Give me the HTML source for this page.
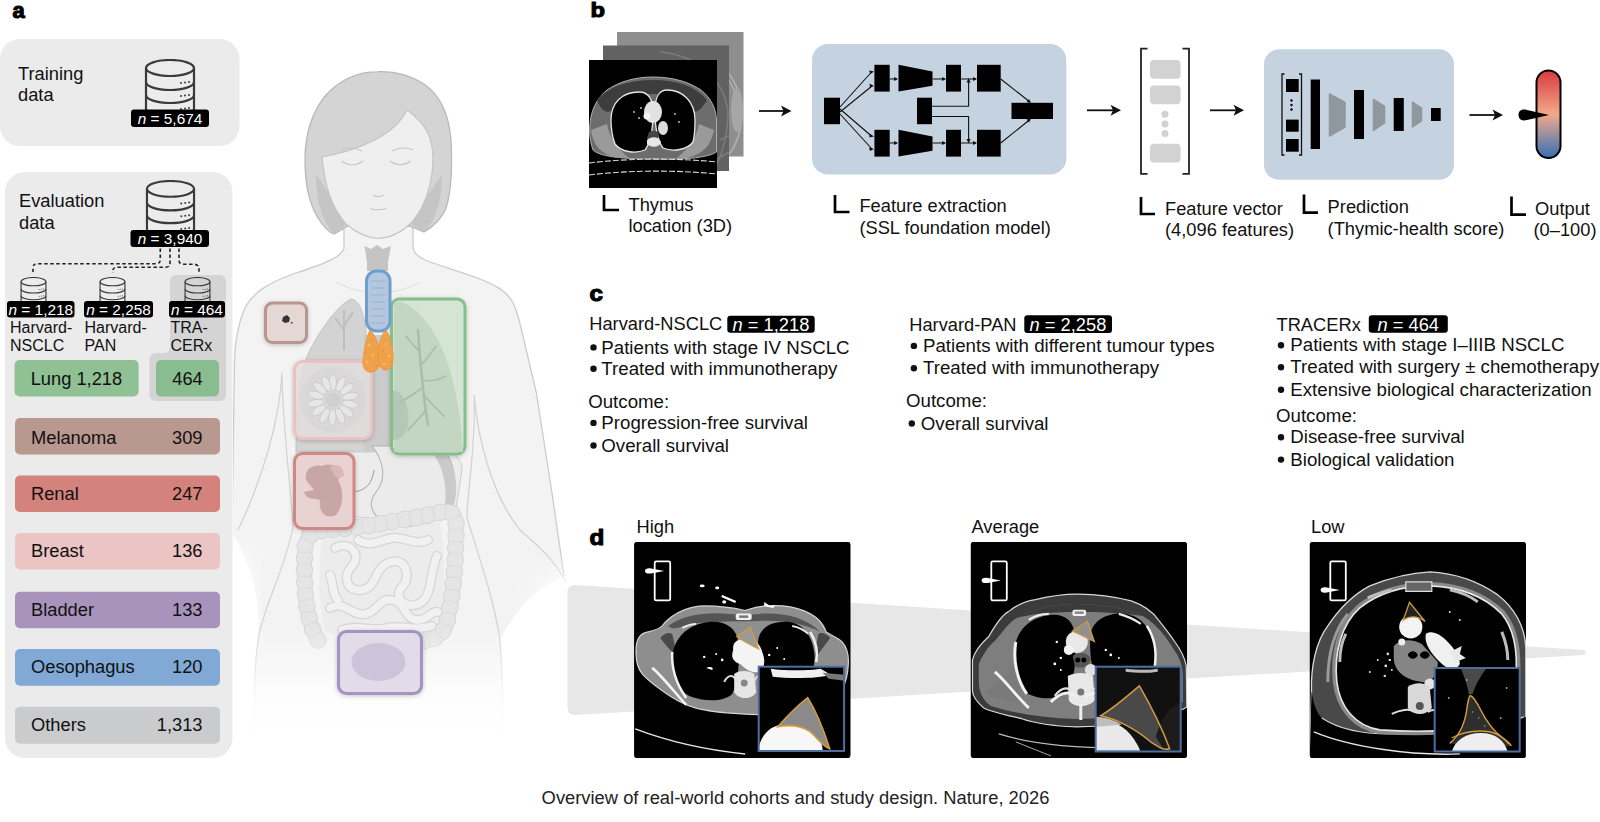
<!DOCTYPE html>
<html><head><meta charset="utf-8">
<style>
svg{color:#ececec}
html,body{margin:0;padding:0;background:#fff;width:1600px;height:822px;overflow:hidden}
svg{display:block;font-family:"Liberation Sans",sans-serif}
.t{font-size:18.3px;fill:#111}
.s{font-size:15.4px;fill:#111}
.w{fill:#fff}
.lb{font-weight:bold;font-size:22px;fill:#000;stroke:#000;stroke-width:1.1px}
</style></head><body>
<svg width="1600" height="822" viewBox="0 0 1600 822">
<defs>
  <symbol id="db" viewBox="0 0 52 56">
    <path d="M2 9 V50 A24 8 0 0 0 50 50 V9" fill="currentColor" stroke="#3a3a3a" stroke-width="2.2"/>
    <ellipse cx="26" cy="9" rx="24" ry="8" fill="currentColor" stroke="#3a3a3a" stroke-width="2.2"/>
    <path d="M2 23 A24 8 0 0 0 50 23 M2 36 A24 8 0 0 0 50 36" fill="none" stroke="#3a3a3a" stroke-width="2.2"/>
    <g fill="#3a3a3a"><circle cx="37" cy="24" r="1"/><circle cx="41" cy="23.5" r="1"/><circle cx="45" cy="23" r="1"/>
    <circle cx="37" cy="37" r="1"/><circle cx="41" cy="36.5" r="1"/><circle cx="45" cy="36" r="1"/>
    <circle cx="37" cy="50" r="1"/><circle cx="41" cy="49.5" r="1"/><circle cx="45" cy="49" r="1"/></g>
  </symbol>
  <linearGradient id="gauge" x1="0" y1="0" x2="0" y2="1">
    <stop offset="0" stop-color="#d83a3c"/>
    <stop offset="0.5" stop-color="#f2a98a"/>
    <stop offset="1" stop-color="#3670b5"/>
  </linearGradient>
</defs>

<!-- ============ PANEL A ============ -->
<text x="12.5" y="18.3" class="lb" font-size="25.5">a</text>
<rect x="0" y="39" width="239.5" height="107" rx="20" fill="#ebebeb"/>
<text class="t" x="18" y="80">Training</text>
<text class="t" x="18" y="101">data</text>
<use href="#db" x="144" y="59" width="52" height="56"/>
<rect x="131" y="109.5" width="78" height="17.5" rx="3" fill="#000"/>
<text class="s w" x="170" y="123.5" text-anchor="middle"><tspan font-style="italic">n</tspan> = 5,674</text>

<rect x="5" y="172" width="227.5" height="586" rx="20" fill="#ebebeb"/>
<text class="t" x="19" y="206.7">Evaluation</text>
<text class="t" x="19" y="228.6">data</text>
<use href="#db" x="145" y="180" width="51" height="55"/>
<rect x="130.5" y="230" width="78.5" height="17" rx="3" fill="#000"/>
<text class="s w" x="170" y="244" text-anchor="middle"><tspan font-style="italic">n</tspan> = 3,940</text>


<!-- tracerx bg -->
<path d="M176 275 H220 A6 6 0 0 1 226 281 V395 A6 6 0 0 1 220 401 H155.5 A6 6 0 0 1 149.5 395 V359 A6 6 0 0 1 155.5 353 H164 A6 6 0 0 0 170 347 V281 A6 6 0 0 1 176 275 Z" fill="#d4d4d4"/>
<!-- dashed connectors -->
<g fill="none" stroke="#222" stroke-width="1.6" stroke-dasharray="3.5 2.5">
  <path d="M160.3 248.5 V259.5 Q160.3 263.7 156 263.7 H37.3 Q33 263.7 33 268 V272"/>
  <path d="M170 248.5 V263 Q170 267.2 165.7 267.2 H117 Q112.8 267.2 112.8 271.5 V273"/>
  <path d="M179 248.5 V260 Q179 264 183 264.3 H194.8 Q199 264.8 199 269 V273"/>
</g>
<use href="#db" x="20" y="277" width="27" height="29"/>
<use href="#db" x="99" y="277" width="27" height="29"/>
<use href="#db" x="184" y="277" width="27" height="29" style="color:#d4d4d4"/>
<rect x="7" y="301" width="67.5" height="16.5" rx="3" fill="#000"/>
<text class="s w" x="40.8" y="314.5" text-anchor="middle" font-size="15"><tspan font-style="italic">n</tspan> = 1,218</text>
<rect x="84" y="301" width="69" height="16.5" rx="3" fill="#000"/>
<text class="s w" x="118.5" y="314.5" text-anchor="middle" font-size="15"><tspan font-style="italic">n</tspan> = 2,258</text>
<rect x="169" y="301" width="56" height="16.5" rx="3" fill="#000"/>
<text class="s w" x="197" y="314.5" text-anchor="middle" font-size="15"><tspan font-style="italic">n</tspan> = 464</text>
<text class="s" x="10" y="332.5" style="font-size:16px">Harvard-</text>
<text class="s" x="10" y="351" style="font-size:16px">NSCLC</text>
<text class="s" x="84.5" y="332.5" style="font-size:16px">Harvard-</text>
<text class="s" x="84.5" y="351" style="font-size:16px">PAN</text>
<text class="s" x="170.5" y="332.5" style="font-size:16px">TRA-</text>
<text class="s" x="170.5" y="351" style="font-size:16px">CERx</text>

<rect x="14.6" y="360" width="124" height="36.5" rx="5" fill="#8fc194"/>
<text class="t" x="30.7" y="384.5">Lung 1,218</text>
<rect x="156" y="360" width="63" height="36.5" rx="5" fill="#89bc8e"/>
<text class="t" x="187.5" y="384.5" text-anchor="middle">464</text>

<g class="t">
<rect x="15" y="418" width="205" height="36.5" rx="5" fill="#b99890"/>
<text x="31" y="443.8">Melanoma</text><text x="202.5" y="443.8" text-anchor="end">309</text>
<rect x="15" y="475.5" width="205" height="36.5" rx="5" fill="#d4827c"/>
<text x="31" y="499.8">Renal</text><text x="202.5" y="499.8" text-anchor="end">247</text>
<rect x="15" y="533" width="205" height="36.5" rx="5" fill="#ebc4c4"/>
<text x="31" y="557.3">Breast</text><text x="202.5" y="557.3" text-anchor="end">136</text>
<rect x="15" y="591.7" width="205" height="36.5" rx="5" fill="#a893bd"/>
<text x="31" y="616">Bladder</text><text x="202.5" y="616" text-anchor="end">133</text>
<rect x="15" y="649" width="205" height="36.8" rx="5" fill="#80a9d6"/>
<text x="31" y="673.3">Oesophagus</text><text x="202.5" y="673.3" text-anchor="end">120</text>
<rect x="15" y="706.7" width="205" height="37" rx="5" fill="#c9cbcd"/>
<text x="31" y="731">Others</text><text x="202.5" y="731" text-anchor="end">1,313</text>
</g>


<!-- ============ BODY ============ -->
<defs>
  <linearGradient id="fadeB" x1="0" y1="0" x2="0" y2="1">
    <stop offset="0" stop-color="#fff" stop-opacity="0"/>
    <stop offset="0.6" stop-color="#fff" stop-opacity="0.85"/>
    <stop offset="1" stop-color="#fff" stop-opacity="1"/>
  </linearGradient>
  <filter id="shd" x="-30%" y="-30%" width="160%" height="160%"><feDropShadow dx="0" dy="1" stdDeviation="2.2" flood-color="#000" flood-opacity="0.22"/></filter>
  <clipPath id="bodyclip"><path d="M233 0 H600 V575 H566 V822 H233 Z"/></clipPath>
</defs>
<g id="body" clip-path="url(#bodyclip)">
  <!-- silhouette -->
  <path d="M344 229 L344 248 C342 256 330 262 296 273 C270 282 252 292 244 310 C238 325 235 340 234.5 360 L232 533 C250 560 262 600 258 640 C254 670 254 700 254 760 L503 760 C503 710 503 680 500 640 C520 600 545 585 564 576 L552 493 L536.4 393 L521 327.6 C518 315 515 306 512 301 C505 290 495 285 480 279 C462 272 440 266 425 260 C416 256 413 252 413 246 L413 224 Z" fill="#f3f3f3"/>
  <path d="M344 229 L344 248 C342 256 330 262 296 273 C270 282 252 292 244 310 C238 325 235 340 234.5 360 L232 533 M413 224 L413 246 C413 252 416 256 425 260 C440 266 462 272 480 279 C495 285 505 290 512 301 C515 306 518 315 521 327.6 L536.4 393 L552 493 L564 576" fill="none" stroke="#cbcbcb" stroke-width="1.3"/>
  <!-- arm/torso lines -->
  <path d="M336 282 C352 290 362 292 372 292 M420 282 C405 290 395 292 385 292" fill="none" stroke="#dedede" stroke-width="1"/>
  <path d="M282 372 C280 420 262 480 238 530" fill="none" stroke="#d0d0d0" stroke-width="1.2"/>
  <path d="M282 376 C283 430 292 500 293 527 C285 570 262 610 258 640 C254 670 254 700 254 740" fill="none" stroke="#d2d2d2" stroke-width="1.2"/>
  <path d="M474 395 C478 440 492 495 520 530 C540 548 556 560 570 590" fill="none" stroke="#d0d0d0" stroke-width="1.2"/>
  <path d="M474 400 C476 450 466 500 467 518 C480 560 494 600 500 640 C503 680 503 710 503 740" fill="none" stroke="#d2d2d2" stroke-width="1.2"/>
  
  <!-- hair back -->
  <path d="M377.7 71.7 C355 72 338 82 326 95 C312 112 305 135 305 160 C305 185 310 205 318 218 C323 226 328 232 334 234 L348 226 L410 226 L424 232 C432 228 442 218 446 208 C452 190 452 160 451 140 C449 115 440 95 424 84 C410 75 395 71 377.7 71.7 Z" fill="#d4d4d4" stroke="#b9b9b9" stroke-width="1.3"/>
  <path d="M316 175 C316 205 324 222 334 234 L350 222 Z M442 175 C442 205 434 222 424 232 L408 222 Z" fill="#c5c5c5"/>
  <!-- face -->
  <path d="M322 157 C325 185 330 205 346 224 C358 234 368 238 378 238.3 C390 238 402 232 412 222 C426 205 432 185 433 160 C433 140 428 125 407 110 C395 135 360 150 322 157 Z" fill="#efefef" stroke="#c3c3c3" stroke-width="1.1"/>
  <g fill="none" stroke="#c6c6c6" stroke-width="1.1">
    <path d="M342 161 C348 166 356 166 363 161"/>
    <path d="M390 161 C397 166 404 166 411 161"/>
    <path d="M341 150 C348 147 356 148 362 151 M392 151 C398 148 406 147 413 150"/>
    <path d="M373 195 C376 197 380 197 384 195"/>
    <path d="M370 208.5 C375 210 381 210 386 208.5"/>
  </g>
  <!-- larynx -->
  <path d="M364.5 246 L371 249 L377 245 L383 249 L390.8 246 L388 262 L388 271 L367 271 L367 262 Z" fill="#c4c4c4"/>
  <!-- left lung gray -->
  <path d="M351 299 C338 305 320 330 310 350 C300 370 296 400 296 452 L366 452 L366 330 C364 315 360 300 351 299 Z" fill="#d3d3d3" stroke="#c2c2c2" stroke-width="1"/>
  <g fill="none" stroke="#bdbdbd" stroke-width="1.8"><path d="M344 310 V350 M344 330 L335 318 M344 326 L353 312"/></g>
  <!-- heart -->
  <path d="M364 335 L394 335 L394 452 L366 452 C356 425 356 392 364 370 Z" fill="#cbcbcb"/>
  <!-- stomach/liver -->
  <path d="M296 452 C300 480 318 505 350 515 C390 525 430 520 456 508 L462 470 C462 455 450 452 440 452 Z" fill="#ececec" stroke="#cdcdcd" stroke-width="1"/>
  <path d="M372 446 C385 462 386 480 376 492 C366 505 372 522 400 526 C430 530 452 515 454 490 C456 470 450 455 440 446 Z" fill="#ebebeb" stroke="#b5b5b5" stroke-width="1.1"/>
  <path d="M354 492 C366 490 372 484 374 470" fill="none" stroke="#9d9d9d" stroke-width="1"/>
  <path d="M432 452 C446 470 450 500 440 520 L450 516 C460 495 458 468 444 452 Z" fill="#cacaca"/>
  <!-- intestines -->
  <path d="M322 540 C360 535 420 525 440 522 C446 560 446 600 438 632 C400 642 350 642 325 632 C318 600 318 570 322 540 Z" fill="#ececec"/>
  <g fill="none" stroke-linecap="round" stroke-linejoin="round"><path d="M335 548 C350 540 362 555 352 566 C342 577 347 592 362 590 C377 588 374 567 390 562 C406 557 412 577 402 587 C392 597 407 612 422 602 C432 594 430 572 437 556 M330 608 C345 600 352 617 366 614 C380 610 378 598 392 600 C406 602 404 620 418 620 C428 620 432 610 438 612 M342 630 C358 624 372 632 386 628 C400 624 412 632 432 626 M358 540 C370 548 380 540 392 538 C404 536 414 546 428 540 M330 575 C334 585 332 595 338 600" stroke="#d5d5d5" stroke-width="10"/><path d="M335 548 C350 540 362 555 352 566 C342 577 347 592 362 590 C377 588 374 567 390 562 C406 557 412 577 402 587 C392 597 407 612 422 602 C432 594 430 572 437 556 M330 608 C345 600 352 617 366 614 C380 610 378 598 392 600 C406 602 404 620 418 620 C428 620 432 610 438 612 M342 630 C358 624 372 632 386 628 C400 624 412 632 432 626 M358 540 C370 548 380 540 392 538 C404 536 414 546 428 540 M330 575 C334 585 332 595 338 600" stroke="#f1f1f1" stroke-width="7.5"/></g>
  <g fill="none" stroke-linejoin="round">
    <path d="M318 640 C306 622 303 585 305 548 C306 536 312 531 326 530 C360 528 400 521 442 512 C452 510 457 516 456 526 C456 562 453 600 446 625 C442 636 432 641 420 642" stroke="#d6d6d6" stroke-width="15" stroke-linecap="round"/>
    <path d="M318 640 C306 622 303 585 305 548 C306 536 312 531 326 530 C360 528 400 521 442 512 C452 510 457 516 456 526 C456 562 453 600 446 625 C442 636 432 641 420 642" stroke="#d6d6d6" stroke-width="17.5" stroke-dasharray="0.01 12" stroke-linecap="round"/>
    <path d="M318 640 C306 622 303 585 305 548 C306 536 312 531 326 530 C360 528 400 521 442 512 C452 510 457 516 456 526 C456 562 453 600 446 625 C442 636 432 641 420 642" stroke="#e5e5e5" stroke-width="13" stroke-linecap="round"/>
    <path d="M318 640 C306 622 303 585 305 548 C306 536 312 531 326 530 C360 528 400 521 442 512 C452 510 457 516 456 526 C456 562 453 600 446 625 C442 636 432 641 420 642" stroke="#e5e5e5" stroke-width="15.5" stroke-dasharray="0.01 12" stroke-linecap="round"/>
    <path d="M318 640 C306 622 303 585 305 548 C306 536 312 531 326 530 C360 528 400 521 442 512 C452 510 457 516 456 526 C456 562 453 600 446 625 C442 636 432 641 420 642" stroke="#d8d8d8" stroke-width="13" stroke-dasharray="0.8 11.2" stroke-dashoffset="-5.6"/>
  </g>
  <rect x="220" y="630" width="360" height="110" fill="url(#fadeB)"/><rect x="220" y="740" width="360" height="30" fill="#fff"/>
  <defs><linearGradient id="fadeR" x1="0" y1="0" x2="1" y2="0"><stop offset="0" stop-color="#fff" stop-opacity="0"/><stop offset="1" stop-color="#fff" stop-opacity="1"/></linearGradient>
  <linearGradient id="fadeL" x1="1" y1="0" x2="0" y2="0"><stop offset="0" stop-color="#fff" stop-opacity="0"/><stop offset="1" stop-color="#fff" stop-opacity="1"/></linearGradient></defs>
  <defs><filter id="bigblur" x="-50%" y="-50%" width="200%" height="200%"><feGaussianBlur stdDeviation="14"/></filter></defs>
  <path d="M540 585 L600 560 L600 780 L515 780 Z" fill="#fff" filter="url(#bigblur)"/>
  <path d="M225 545 L250 565 L245 640 L225 640 Z" fill="#fff" filter="url(#bigblur)"/>
</g>
<g id="organs">
  <rect x="265.5" y="303" width="41" height="39.5" rx="7" fill="#e5d7d4" stroke="#b8958f" stroke-width="3" filter="url(#shd)"/>
  <path d="M283 317 l4 -2 l3 3 l-1 4 l-4 1 l-3 -2 Z M291 322 l1.5 0 l0 1.5 l-1.5 0Z" fill="#333"/>
  <rect x="294.5" y="361.5" width="77" height="77" rx="8" fill="#e6e0e0" fill-opacity="0.85" stroke="#e9c3c3" stroke-width="3" filter="url(#shd)"/>
  <circle cx="333" cy="400" r="33" fill="#d6d6d6" opacity="0.75"/>
  <g transform="translate(333 400)" fill="#e6e6e6" stroke="#c8c8c8" stroke-width="0.8">
    <ellipse cx="0" cy="-17.5" rx="3.6" ry="8.2" transform="rotate(0)"/><ellipse cx="0" cy="-17.5" rx="3.6" ry="8.2" transform="rotate(26)"/><ellipse cx="0" cy="-17.5" rx="3.6" ry="8.2" transform="rotate(52)"/><ellipse cx="0" cy="-17.5" rx="3.6" ry="8.2" transform="rotate(78)"/><ellipse cx="0" cy="-17.5" rx="3.6" ry="8.2" transform="rotate(104)"/><ellipse cx="0" cy="-17.5" rx="3.6" ry="8.2" transform="rotate(130)"/><ellipse cx="0" cy="-17.5" rx="3.6" ry="8.2" transform="rotate(156)"/><ellipse cx="0" cy="-17.5" rx="3.6" ry="8.2" transform="rotate(182)"/><ellipse cx="0" cy="-17.5" rx="3.6" ry="8.2" transform="rotate(208)"/><ellipse cx="0" cy="-17.5" rx="3.6" ry="8.2" transform="rotate(234)"/><ellipse cx="0" cy="-17.5" rx="3.6" ry="8.2" transform="rotate(260)"/><ellipse cx="0" cy="-17.5" rx="3.6" ry="8.2" transform="rotate(286)"/><ellipse cx="0" cy="-17.5" rx="3.6" ry="8.2" transform="rotate(312)"/><ellipse cx="0" cy="-17.5" rx="3.6" ry="8.2" transform="rotate(338)"/>
    <circle r="6.5" fill="#d0d0d0"/>
  </g>
  <rect x="294.5" y="453.5" width="59.5" height="75" rx="8" fill="#ead3d1" fill-opacity="0.92" stroke="#d08884" stroke-width="3" filter="url(#shd)"/>
  <path d="M306 480 C304 470 312 464 322 466 C330 462 340 466 342 474 L338 480 C344 490 344 505 336 515 C326 520 318 512 320 500 C314 498 306 500 304 492 L314 490 Z" fill="#c29f9f" opacity="0.85"/>
  <path d="M330 468 C336 462 344 466 344 476 L336 478 Z" fill="#d9b9b6"/>
  <rect x="391.5" y="299" width="73.5" height="155" rx="8" fill="#d5e6d3" fill-opacity="0.9" stroke="#84bf89" stroke-width="3" filter="url(#shd)"/>
  <path d="M394 302 C405 300 420 310 435 335 C450 360 460 400 463 452 L394 452 Z" fill="#c3d6c1"/>
  <path d="M393 390 C405 392 410 410 408 425 C406 435 400 440 393 440 Z" fill="#b5c8b3"/>
  <g fill="none" stroke="#aabfa8" stroke-linecap="round">
    <path d="M418 330 C420 360 422 390 428 425" stroke-width="2.6"/>
    <path d="M420 352 C414 346 410 342 406 336 M421 365 C428 358 432 352 436 346 M423 380 C430 382 438 380 446 376 M424 395 C432 405 438 410 444 416 M422 388 C414 394 408 398 400 402 M426 410 C420 418 414 424 408 430" stroke-width="1.8"/>
  </g>
  <rect x="366.5" y="271" width="23.5" height="60" rx="10" fill="#b3c8de" stroke="#6e9fd0" stroke-width="3"/>
  <g stroke="#98b2cd" stroke-width="1"><path d="M371 281 H385 M371 288 H385 M371 295 H385 M371 302 H385 M371 309 H385 M371 316 H385 M371 323 H385"/></g>
  <path d="M370 330 C366 338 364 350 363 360 C362 368 366 373 372 372 C378 371 380 366 380 358 C380 346 376 336 370 330 Z" fill="#f0a24a" stroke="#e3953c" stroke-width="0.8"/>
  <path d="M386 330 C380 336 378 346 378 358 C378 366 382 371 387 370 C392 369 394 362 393 354 C392 344 390 336 386 330 Z" fill="#f0a24a" stroke="#e3953c" stroke-width="0.8"/>
  <g fill="#f7c07a" opacity="0.8"><circle cx="369" cy="345" r="1.3"/><circle cx="373" cy="355" r="1.3"/><circle cx="367" cy="362" r="1.3"/><circle cx="386" cy="344" r="1.2"/><circle cx="389" cy="356" r="1.3"/><circle cx="384" cy="364" r="1.2"/></g>
  <g fill="#d9862e" opacity="0.7"><circle cx="372" cy="340" r="1"/><circle cx="366" cy="352" r="1"/><circle cx="376" cy="366" r="1"/><circle cx="383" cy="351" r="1"/><circle cx="391" cy="362" r="1"/></g>
  <rect x="338.5" y="631.5" width="83" height="62" rx="8" fill="#e2dcea" stroke="#a594c0" stroke-width="3.2" filter="url(#shd)"/>
  <ellipse cx="378.5" cy="662" rx="27" ry="19" fill="#cec4da"/>
</g>
<!-- ============ PANEL B ============ -->
<text x="590.5" y="16.8" class="lb" font-size="23" transform="translate(590.5 16.8) scale(1.08 0.95) translate(-590.5 -16.8)">b</text>
<g id="ctstack">
  <rect x="617" y="32" width="126.5" height="124.5" fill="#8e8e8e"/>
  <g fill="none" stroke="#b0b0b0" stroke-width="1.6">
    <path d="M700 52 C728 62 742 90 742 112 C742 130 736 146 728 156"/>
    <path d="M712 66 C732 76 738 96 738 112"/>
  </g>
  <ellipse cx="737" cy="110" rx="6" ry="22" fill="#a6a6a6"/>
  <rect x="603" y="45.5" width="126" height="125.5" fill="#626262"/>
  <g fill="none" stroke="#7c7c7c" stroke-width="1.5">
    <path d="M660 52 C700 56 724 80 728 112 C728 130 724 150 716 166"/>
    <path d="M720 140 L729 136 M716 160 L729 152"/>
  </g>
  <rect x="589" y="60" width="128" height="128" fill="#000"/>
  <g transform="translate(589 60)" filter="url(#sb)">
    <path d="M1 64 C2 50 8 38 18 30 C30 22 45 17 64 17 C84 17 100 22 112 30 C122 38 127 48 127.5 60 L127.5 92 C120 97 100 100 64 99 C30 99 10 96 4 90 C1 82 0 72 1 64 Z" fill="#6c6c6c" stroke="#bbb" stroke-width="0.9"/>
    <path d="M8 40 C20 26 40 20 64 20 C88 20 106 26 118 40 C112 50 106 56 100 48 C90 36 70 34 64 34 C50 34 34 38 26 48 C18 56 12 50 8 40 Z" fill="#3c3c3c"/>
    <path d="M2 70 C4 86 12 94 28 98 L40 98 C28 88 20 76 18 64 Z M125 70 C122 86 114 94 98 98 L88 98 C100 88 108 76 110 64 Z" fill="#9a9a9a"/>
    <path d="M22 60 C22 42 34 32 50 32 C60 32 64 40 64 52 C64 68 62 82 56 90 C46 94 32 92 26 84 C23 76 22 68 22 60 Z" fill="#000" stroke="#e6e6e6" stroke-width="1.3"/>
    <path d="M106 60 C106 42 94 30 78 30 C70 30 66 38 66 50 C66 66 68 80 74 88 C84 92 98 90 104 82 C106 74 106 68 106 60 Z" fill="#000" stroke="#e6e6e6" stroke-width="1.3"/>
    <ellipse cx="64" cy="52" rx="9" ry="11" fill="#e2e2e2"/>
    <circle cx="58" cy="56" r="3.5" fill="#f4f4f4"/>
    <ellipse cx="74" cy="68" rx="5" ry="7" fill="#dcdcdc"/>
    <path d="M60 72 C64 70 68 70 70 74 L68 82 C64 84 60 82 58 78 Z" fill="#444"/>
    <path d="M58 80 C62 76 70 76 72 82 C70 88 62 88 58 84 Z" fill="#e8e8e8"/>
    <g fill="#ccc"><circle cx="45" cy="52" r="0.9"/><circle cx="50" cy="58" r="0.9"/><circle cx="86" cy="54" r="0.9"/><circle cx="90" cy="62" r="0.9"/><circle cx="52" cy="48" r="0.9"/></g>
    <path d="M0 103 C40 98 90 98 128 102 M0 115 C40 110 90 110 128 114" fill="none" stroke="#d8d8d8" stroke-width="1.1" stroke-dasharray="6 2"/>
  </g>
</g>
<g fill="none" stroke="#111" stroke-width="1.8">
  <path d="M759 111 H784"/>
</g>
<g fill="#111"><path d="M791.5 111 L781 105.5 L783.5 111 L781 116.5 Z"/><path d="M1121 110.3 L1110.5 104.8 L1113 110.3 L1110.5 115.8 Z"/><path d="M1244 110.3 L1233.5 104.8 L1236 110.3 L1233.5 115.8 Z"/><path d="M1503 115 L1492.5 109.5 L1495 115 L1492.5 120.5 Z"/></g>
<path d="M604 195 V210 H619" fill="none" stroke="#000" stroke-width="2.7"/>
<text class="t" x="628.5" y="211">Thymus</text>
<text class="t" x="628.5" y="232">location (3D)</text>

<rect x="812" y="44" width="254.3" height="130.5" rx="16" fill="#c5d3e1"/>
<g fill="#000">
  <rect x="824" y="97.7" width="16" height="26.5"/>
  <rect x="874.4" y="64.8" width="15.3" height="26.8"/>
  <path d="M898.5 64.8 L932.5 71.5 L932.5 85.7 L898.5 91.6 Z"/>
  <rect x="946" y="64.8" width="15" height="26.8"/>
  <rect x="977" y="64.8" width="23.7" height="26.8"/>
  <rect x="874.4" y="129.8" width="15.3" height="26.8"/>
  <path d="M898.5 129.8 L932.5 136.5 L932.5 150.7 L898.5 156.6 Z"/>
  <rect x="946" y="129.8" width="15" height="26.8"/>
  <rect x="977" y="129.8" width="23.7" height="26.8"/>
  <rect x="917" y="97.7" width="15" height="26.5"/>
  <rect x="1011.5" y="102.8" width="41.5" height="16.2"/>
</g>
<g fill="none" stroke="#111" stroke-width="1.1">
  <path d="M840 107 L872 71.5 M840 112 L872 86 M840 109 L872 136.5 M840 114 L872 149"/>
  <path d="M889.7 79 H897 M932.5 79 H945 M961 79 H976 M889.7 143 H897 M932.5 143 H945 M961 143 H976"/>
  <path d="M932 106.3 H968.6 V81 M932 116.5 H968.6 V141"/>
  <path d="M1000.7 79 L1030 102 M1000.7 143 L1030 119.5"/>
</g>
<g fill="#111">
  <path d="M874 71.5 l-5 -1 l1.5 3.5 Z M874 86 l-4.5 -2.5 l0.5 4 Z M874 136.5 l-4.5 -3 l0 4 Z M874 149 l-5 -1.5 l1 3.5Z"/>
  <path d="M898 79 l-4 -2 v4 Z M946 79 l-4 -2 v4 Z M977 79 l-4 -2 v4 Z M898 143 l-4 -2 v4 Z M946 143 l-4 -2 v4 Z M977 143 l-4 -2 v4 Z"/>
  <path d="M968.6 78 l-2 4.5 h4 Z M968.6 143.5 l-2 -4.5 h4 Z"/>
  <path d="M1031 103 l-4.5 -1 l2.5 -3 Z M1031 118.5 l-4.5 1 l2.5 3 Z"/>
</g>
<path d="M835 195 V212 H849.5" fill="none" stroke="#000" stroke-width="2.7"/>
<text class="t" x="859.4" y="212">Feature extraction</text>
<text class="t" x="859.4" y="233.5">(SSL foundation model)</text>

<g fill="none" stroke="#111" stroke-width="1.8">
  <path d="M1087 110.3 H1115"/>
  <path d="M1210 110.3 H1238"/>
  <path d="M1469.5 115 H1497"/>
</g>
<g fill="none" stroke="#222" stroke-width="1.8">
  <path d="M1147.5 48.7 H1141 V173.8 H1147.5"/>
  <path d="M1182.5 48.7 H1189 V173.8 H1182.5"/>
</g>
<g fill="#d2d2d2">
  <rect x="1150" y="60" width="30.6" height="18.7" rx="4"/>
  <rect x="1150" y="85.4" width="30.6" height="18.8" rx="4"/>
  <rect x="1150" y="143.8" width="30.6" height="18.7" rx="4"/>
  <circle cx="1165" cy="114.3" r="3.5"/><circle cx="1165" cy="124" r="3.5"/><circle cx="1165" cy="133.6" r="3.5"/>
</g>
<path d="M1141 197 V214 H1155" fill="none" stroke="#000" stroke-width="2.7"/>
<text class="t" x="1165" y="214.5">Feature vector</text>
<text class="t" x="1165" y="236">(4,096 features)</text>

<rect x="1264" y="49.3" width="190" height="130.5" rx="15" fill="#c5d3e1"/>
<g fill="none" stroke="#111" stroke-width="1.3">
  <path d="M1284.5 74 H1282 V155 H1284.5 M1299 74 H1301.5 V155 H1299"/>
</g>
<g fill="#000">
  <rect x="1286" y="79" width="12.7" height="13"/>
  <rect x="1286" y="119.6" width="12.7" height="12.1"/>
  <rect x="1286" y="139" width="12.7" height="12.7"/>
  <circle cx="1291.5" cy="100.5" r="1.2"/><circle cx="1291.5" cy="105" r="1.2"/><circle cx="1291.5" cy="109.5" r="1.2"/>
  <rect x="1310.7" y="79.5" width="9.3" height="69.5"/>
  <rect x="1354" y="90" width="10" height="49"/>
  <rect x="1393.7" y="98" width="10.1" height="33"/>
  <rect x="1431" y="108" width="9.7" height="13"/>
</g>
<g fill="#8f979f" stroke="#8f979f" stroke-width="1.5" stroke-linejoin="round">
  <path d="M1329.5 94 L1345 102.5 L1345 127 L1329.5 136 Z"/>
  <path d="M1373.5 99.5 L1384.5 106.5 L1384.5 123 L1373.5 130.5 Z"/>
  <path d="M1412.5 102 L1421.5 108 L1421.5 121 L1412.5 127 Z"/>
</g>
<path d="M1304 194.5 V212.7 H1318" fill="none" stroke="#000" stroke-width="2.7"/>
<text class="t" x="1327.6" y="212.7">Prediction</text>
<text class="t" x="1327.6" y="234.6">(Thymic-health score)</text>

<rect x="1536.5" y="70.5" width="24" height="87.5" rx="12" fill="url(#gauge)" stroke="#000" stroke-width="2"/>
<path d="M1549 115 L1527 110 C1521 108.5 1518.5 111.5 1518.5 115 C1518.5 118.5 1521 121.5 1527 120 Z" fill="#000"/>
<path d="M1511.5 196.4 V214.6 H1526" fill="none" stroke="#000" stroke-width="2.7"/>
<text class="t" x="1535" y="214.6">Output</text>
<text class="t" x="1533.5" y="236">(0–100)</text>

<!-- ============ PANEL C ============ -->
<text x="589.5" y="301" class="lb" font-size="24" transform="translate(589.5 301) scale(1.1 1) translate(-589.5 -301)">c</text>
<g class="t" style="font-size:18.7px">
<text x="589.2" y="330.4" style="font-size:18.3px">Harvard-NSCLC</text>
<text x="601.3" y="353.5">Patients with stage IV NSCLC</text>
<text x="601.3" y="374.8">Treated with immunotherapy</text>
<text x="588.2" y="407.9">Outcome:</text>
<text x="601.3" y="429">Progression-free survival</text>
<text x="601.3" y="451.6">Overall survival</text>

<text x="909.2" y="330.8" style="font-size:18.3px">Harvard-PAN</text>
<text x="923" y="352">Patients with different tumour types</text>
<text x="923" y="374.4">Treated with immunotherapy</text>
<text x="906" y="407.3">Outcome:</text>
<text x="920.8" y="429.6">Overall survival</text>

<text x="1276.5" y="330.6" style="font-size:18.3px">TRACERx</text>
<text x="1290.3" y="351.4">Patients with stage I–IIIB NSCLC</text>
<text x="1290.3" y="373.3">Treated with surgery ± chemotherapy</text>
<text x="1290.3" y="395.9">Extensive biological characterization</text>
<text x="1276" y="421.5">Outcome:</text>
<text x="1290.3" y="443.4">Disease-free survival</text>
<text x="1290.3" y="465.7">Biological validation</text>
</g>
<g fill="#111">
<circle cx="593.5" cy="347.4" r="3.2"/><circle cx="593.5" cy="368.7" r="3.2"/><circle cx="593.5" cy="422.9" r="3.2"/><circle cx="593.5" cy="445.5" r="3.2"/>
<circle cx="913.9" cy="345.9" r="3.2"/><circle cx="913.9" cy="368.3" r="3.2"/><circle cx="911.8" cy="423.5" r="3.2"/>
<circle cx="1281" cy="345.3" r="3.2"/><circle cx="1281" cy="367.2" r="3.2"/><circle cx="1281" cy="389.8" r="3.2"/><circle cx="1281" cy="437.3" r="3.2"/><circle cx="1281" cy="459.6" r="3.2"/>
</g>
<rect x="727.3" y="315.8" width="87.4" height="17" rx="3" fill="#000"/>
<text class="t w" x="771" y="330.5" text-anchor="middle"><tspan font-style="italic">n</tspan> = 1,218</text>
<rect x="1024.3" y="315.3" width="87.7" height="17.7" rx="3" fill="#000"/>
<text class="t w" x="1068" y="330.5" text-anchor="middle"><tspan font-style="italic">n</tspan> = 2,258</text>
<rect x="1368.8" y="315.3" width="79" height="17.5" rx="3" fill="#000"/>
<text class="t w" x="1408.3" y="330.5" text-anchor="middle"><tspan font-style="italic">n</tspan> = 464</text>

<!-- ============ PANEL D ============ -->
<text x="589.5" y="545.3" class="lb" font-size="23" transform="translate(589.5 545.3) scale(1.1 1) translate(-589.5 -545.3)">d</text>
<path d="M575 585 L1584 650 Q1588 652.5 1584 655 L575 715 Q567.5 715 567.5 707 L567.5 593 Q567.5 585 575 585 Z" fill="#e7e7e7"/>
<text class="t" x="636.6" y="533">High</text>
<text class="t" x="971.5" y="533">Average</text>
<text class="t" x="1311" y="533">Low</text>
<rect x="634.2" y="541.9" width="216.2" height="216.1" rx="3" fill="#000"/>
<rect x="970.8" y="541.9" width="216.2" height="216.1" rx="3" fill="#000"/>
<rect x="1309.8" y="541.9" width="216" height="216.1" rx="3" fill="#000"/>


<defs>
  <clipPath id="ctclip"><rect x="0" y="0" width="216.2" height="216.1" rx="3"/></clipPath>
  <clipPath id="insclip"><rect x="0" y="0" width="85" height="84" /></clipPath>
  <filter id="sb" x="-10%" y="-10%" width="120%" height="120%"><feGaussianBlur stdDeviation="0.6"/></filter>
</defs>
<!-- CT HIGH -->
<g transform="translate(634.2 541.9)" clip-path="url(#ctclip)">
  <rect width="216.2" height="216.1" fill="#000"/>
  <g filter="url(#sb)">
  <path d="M1.8 108 C2 98 6 92 12 90.5 C18 89 24 88 28 84 C34 76 40 72 50 68 C58 65 62 64 70 64 C85 64 100 66 110.8 68.6 C118 66 124 64.5 132 64 C145 63 158 64 170 69 C182 74 188 80 192 90 C198 94 204 96 208 100 C213 106 215 114 214 124 C213 140 208 152 196 160 C180 168 150 172 124.5 172.7 C100 172 80 170 70 168 C55 166 45 160 36.9 154.9 C25 147 15 140 8 132 C3 126 1.5 118 1.8 108 Z" fill="#8e8e8e" stroke="#d4d4d4" stroke-width="1.2"/>
  <path d="M34 84 C50 72 75 70 95 72 C105 73 115 73 125 72 C150 70 172 76 186 90 C172 82 150 78 125 79 C100 80 70 78 50 84 C44 86 38 88 34 84 Z" fill="#555"/>
  <path d="M26 96 C30 92 34 90 38 92 L44 118 C40 112 32 104 26 96 Z M196 96 C192 92 188 90 184 92 L180 118 C184 112 190 104 196 96 Z" fill="#4a4a4a"/>
  <path d="M38 118 C38 98 52 82 75 80 C92 79 102 86 104 100 C106 118 104 140 98 152 C90 160 70 160 55 154 C44 148 38 135 38 118 Z" fill="#000"/>
  <path d="M124 98 C126 84 140 79 155 80 C170 82 178 95 180 110 C182 125 176 140 165 148 C150 152 135 148 128 140 C124 128 122 110 124 98 Z" fill="#000"/>
  <path d="M38 110 C37 128 42 142 52 156" fill="none" stroke="#f2f2f2" stroke-width="2.5"/>
  <path d="M176 90 C182 100 184 110 182 120" fill="none" stroke="#f0f0f0" stroke-width="2.5"/>
  <path d="M48 86 C54 83 58 82 62 82" fill="none" stroke="#e8e8e8" stroke-width="2"/>
  <path d="M158 84 C164 85 170 88 174 92" fill="none" stroke="#e8e8e8" stroke-width="2"/>
  <path d="M18 126 C26 132 40 150 52 163" fill="none" stroke="#f4f4f4" stroke-width="2.6"/>
  <rect x="101.5" y="71.5" width="16" height="6.5" rx="2" fill="#f0f0f0"/>
  <rect x="105" y="73.5" width="9" height="2.5" fill="#777"/>
  <path d="M99 108 C98 100 104 96 112 98 C120 96 126 102 128 110 C132 120 130 128 124 130 C118 132 110 126 106 122 C100 120 96 116 99 108 Z" fill="#f4f4f4"/>
  <path d="M102.6 94.6 L116.2 85.1 L124.5 107 C118 104 110 100 102.6 94.6 Z" fill="#9a9a9a" stroke="#d29b3d" stroke-width="1.3"/>
  <path d="M100 132 C104 128 116 128 120 132 L122 150 C118 158 104 158 100 150 Z" fill="#e6e6e6"/>
  <circle cx="110" cy="141" r="3.5" fill="#888"/>
  <path d="M90 140 C94 132 100 132 102 140 M120 140 C122 132 128 132 132 140" fill="none" stroke="#ddd" stroke-width="2"/>
  <path d="M1 187 C30 198 70 208 111 212" fill="none" stroke="#e6e6e6" stroke-width="1.5"/>
  <g fill="#fff"><ellipse cx="68" cy="44" rx="2.5" ry="1.4"/><ellipse cx="83" cy="46" rx="2" ry="1.4"/><path d="M88 53 L102 59 L101 61 L87 55 Z"/><ellipse cx="90" cy="60" rx="2" ry="1.6"/><path d="M130 60 L136 64 L141 63 L139 66 L130 64 Z"/>
  <circle cx="70" cy="115" r="1.2"/><circle cx="82" cy="112" r="1"/><circle cx="88" cy="118" r="1.3"/><path d="M72 126 C76 124 80 126 78 128"/><circle cx="143" cy="106" r="1"/><circle cx="135" cy="113" r="1.2"/><circle cx="150" cy="117" r="1"/></g>
  </g>
  <!-- orientation icon -->
  <rect x="20.5" y="19.5" width="15.5" height="39" rx="1.5" fill="none" stroke="#fff" stroke-width="1.8"/>
  <path d="M30 29 L17 26.5 C13 25.8 10.8 27 10.8 29 C10.8 31 13 32.2 17 31.5 Z" fill="#fff"/>
  <!-- inset -->
  <g transform="translate(124.5 124.8)">
    <rect width="85.4" height="84.3" fill="#000"/>
    <g clip-path="url(#insclip)" filter="url(#sb)">
      <path d="M12 2 C25 4 50 4 62 2 L72 8 C60 12 30 12 14 10 Z" fill="#f0f0f0"/>
      <path d="M64 6 L86 8 L86 14 L70 12 Z" fill="#777"/>
      <path d="M0 80 C4 66 12 60 22 58 C38 55 48 60 56 66 C62 72 64 78 64 86 L0 86 Z" fill="#f7f7f7"/>
      <path d="M19 60 C28 50 40 38 49 31 C56 42 64 60 71 82 C64 80 58 70 50 64 C40 58 30 58 19 60 Z" fill="#8a8a8a" stroke="#d29b3d" stroke-width="1.6"/>
    </g>
    <rect x="0" y="0" width="85.4" height="84.3" fill="none" stroke="#4f6ea0" stroke-width="2"/>
  </g>
</g>


<!-- CT AVERAGE -->
<g transform="translate(970.8 541.9)" clip-path="url(#ctclip)">
  <rect width="216.2" height="216.1" fill="#000"/>
  <g filter="url(#sb)">
  <path d="M1.7 118 C4 108 12 100 18 94.6 C24 84 30 74 37.3 70 C46 63 55 59 64.6 57.7 C80 54 95 52.2 105.7 52.2 C125 52 145 55 160.4 59 C172 63 182 70 187.8 78.2 C194 86 200 94 204.2 100.1 C210 108 214 116 215.5 124 L216 165 C200 175 160 184 105.7 185 C80 184 60 180 51 176.8 C35 173 20 170 12.6 165.8 C6 160 2 155 1.7 149.4 Z" fill="#3a3a3a" stroke="#d8d8d8" stroke-width="1.2"/>
  <path d="M8 122 C12 112 18 104 24 99 C32 90 38 80 46 76 C60 68 80 62 105 62 C130 62 155 66 172 74 C186 82 196 96 202 106 C208 114 212 122 212 135 L212 160 C190 170 150 176 105 177 C75 176 45 172 20 164 C12 158 8 150 8 140 Z" fill="#7e7e7e"/>
  <path d="M46 76 C60 68 80 62 105 62 C130 62 155 66 172 74 C160 72 140 70 105 70 C80 70 60 72 46 76 Z" fill="#3a3a3a"/>
  <path d="M14 150 C30 140 40 130 50 118 L48 160 C38 160 24 156 14 150 Z" fill="#7a7a7a"/>
  <path d="M44 110 C44 90 58 75 80 73 C95 72 104 80 104 95 C106 115 104 140 96 152 C86 158 66 158 54 150 C46 140 44 128 44 110 Z" fill="#000"/>
  <path d="M120 92 C122 78 138 70 155 72 C172 74 182 90 184 108 C186 125 180 142 166 150 C150 154 135 150 126 140 C120 125 118 105 120 92 Z" fill="#000"/>
  <path d="M45 100 C42 118 46 138 56 152" fill="none" stroke="#f2f2f2" stroke-width="3"/>
  <path d="M176 84 C184 96 186 110 184 124" fill="none" stroke="#f2f2f2" stroke-width="2.5"/>
  <path d="M58 78 C64 74 70 72 78 72 M148 72 C156 74 164 78 170 82" fill="none" stroke="#ececec" stroke-width="2.2"/>
  <path d="M24 130 C34 138 46 155 58 166" fill="none" stroke="#f4f4f4" stroke-width="2.8"/>
  <rect x="101.6" y="67.8" width="13.7" height="6.3" rx="2" fill="#f2f2f2"/>
  <rect x="104" y="69.5" width="9" height="2.5" fill="#888"/>
  <ellipse cx="106" cy="100" rx="11" ry="11" fill="#e8e8e8"/>
  <circle cx="98" cy="108" r="5" fill="#f4f4f4"/>
  <path d="M101.6 89.2 L116.6 79.6 L123.5 99.6 C116 96 108 92 101.6 89.2 Z" fill="#909090" stroke="#d29b3d" stroke-width="1.3"/>
  <path d="M102 114 C106 110 116 110 120 116 C120 124 110 128 104 124 Z" fill="#555"/>
  <circle cx="107" cy="118" r="2.5" fill="#000"/><circle cx="113" cy="118" r="2.5" fill="#000"/>
  <circle cx="120" cy="128" r="6" fill="#e0e0e0"/>
  <path d="M97 134 C104 130 116 130 122 134 L124 158 C118 166 102 166 98 158 Z" fill="#e8e8e8"/>
  <path d="M80 160 C90 150 100 148 106 156 M114 156 C120 148 130 150 140 160 M110 162 L110 178" fill="none" stroke="#f0f0f0" stroke-width="3"/>
  <circle cx="110" cy="150" r="3.5" fill="#777"/>
  <path d="M84 154 C90 146 98 144 100 150 M120 150 C124 144 132 146 138 154" fill="none" stroke="#e0e0e0" stroke-width="2.2"/>
  <path d="M28 192 C60 202 100 206 150 206" fill="none" stroke="#bbb" stroke-width="1.2"/>
  <path d="M45 200 C60 206 70 210 80 214" fill="none" stroke="#aaa" stroke-width="1"/>
  <g fill="#fff"><circle cx="86" cy="100" r="1.2"/><circle cx="90" cy="116" r="1.2"/><circle cx="84" cy="122" r="1.4"/><circle cx="90" cy="128" r="1"/><circle cx="135" cy="108" r="1.2"/><circle cx="140" cy="113" r="1.4"/><circle cx="148" cy="116" r="1"/></g>
  </g>
  <rect x="20.5" y="19.5" width="15.5" height="39" rx="1.5" fill="none" stroke="#fff" stroke-width="1.8"/>
  <path d="M30 38.5 L17 36 C13 35.3 10.8 36.5 10.8 38.5 C10.8 40.5 13 41.7 17 41 Z" fill="#fff"/>
  <g transform="translate(124.9 124.8)">
    <rect width="85" height="84.8" fill="#111"/>
    <g clip-path="url(#insclip)" filter="url(#sb)">
      <path d="M5 49 C20 40 33 28 43.7 19.1 C50 30 64 55 74 82 C68 84 62 80 56 76 C40 62 20 52 5 49 Z" fill="#4a4a4a"/>
      <path d="M60 70 C66 50 74 40 86 36 L86 86 L70 86 Z" fill="#1e1e1e"/>
      <path d="M0 52 C16 52 30 60 38 72 C42 78 44 82 45 86 L0 86 Z" fill="#e9e9e9"/>
      <path d="M0 50 C10 50 20 54 26 58 L0 60 Z" fill="#bdbdbd"/>
      <path d="M30 2 C40 3 50 4 62 2 L62 5 C50 7 40 6 30 5 Z" fill="#bbb"/>
    </g>
    <path d="M5 49 C20 40 33 28 43.7 19.1 C50 30 64 55 74 82 C68 84 62 80 56 76 C40 62 20 52 5 49 Z" fill="none" stroke="#d29b3d" stroke-width="1.5"/>
    <rect width="85" height="84.8" fill="none" stroke="#4f6ea0" stroke-width="2"/>
  </g>
</g>
<!-- CT LOW -->
<g transform="translate(1309.8 541.9)" clip-path="url(#ctclip)">
  <rect width="216.2" height="216.1" fill="#000"/>
  <g filter="url(#sb)">
  <path d="M1.7 149 C1 125 6 100 18 84 C30 66 45 52 60 44 C80 36 100 31 120 30 C140 31 165 37 188 53 C205 66 215 85 216 105 L216 216 L0 216 Z" fill="#4a4a4a" stroke="#dadada" stroke-width="1.3"/>
  <path d="M1.7 149 C4 165 8 172 12 176 C30 188 55 192 80 192 C130 192 180 188 216 175 L216 216 L0 216 Z" fill="#000"/>
  <path d="M12 176 C30 188 55 192 80 192 C130 192 180 188 214 175" fill="none" stroke="#cfcfcf" stroke-width="1.2"/>
  <path d="M27 140 C24 110 32 82 50 66 C70 50 95 44 120 44 C150 45 175 55 192 72 C205 88 208 110 206 135 C204 160 196 178 175 184 C140 190 100 190 70 188 C45 184 30 165 27 140 Z" fill="#000" stroke="#8a8a8a" stroke-width="8"/>
  <path d="M27 140 C24 110 32 82 50 66 C70 50 95 44 120 44 C150 45 175 55 192 72 C205 88 208 110 206 135 C204 160 196 178 175 184 C140 190 100 190 70 188 C45 184 30 165 27 140 Z" fill="#000" stroke="#e6e6e6" stroke-width="1.6"/>
  <path d="M18 140 C18 110 25 88 38 72" fill="none" stroke="#9a9a9a" stroke-width="3"/>
  <path d="M96 40 L122 40 L122 49.5 L96 49.5 Z" fill="#666" stroke="#ddd" stroke-width="1.2"/>
  <path d="M58 56 C66 52 74 50 82 48 M140 48 C150 50 160 54 168 60 M192 90 C196 100 198 110 198 118 M30 120 C30 110 32 100 36 92" fill="none" stroke="#bdbdbd" stroke-width="3"/>
  <circle cx="101" cy="85" r="11.6" fill="#f4f4f4"/>
  <path d="M116 92 C122 88 130 92 138 100 C146 108 150 116 150 122 C146 130 138 128 130 120 C122 112 114 102 116 92 Z" fill="#f0f0f0"/>
  <path d="M140 110 L152 104 L150 112 L156 116 L146 120 Z" fill="#e8e8e8"/>
  <path d="M84 104 C90 98 100 96 112 102 L128 120 C128 132 122 142 112 140 C98 138 86 132 84 118 Z" fill="#858585"/>
  <path d="M98 113 C100 108 106 108 108 113 C106 118 100 118 98 113 Z M110 113 C112 108 118 108 120 113 C118 118 112 118 110 113 Z" fill="#000"/>
  <circle cx="92" cy="100" r="3.5" fill="#eee"/>
  <circle cx="120" cy="142" r="5.5" fill="#e4e4e4"/>
  <path d="M98 145 C104 140 116 140 120 146 L122 166 C116 174 104 174 98 166 Z" fill="#d8d8d8"/>
  <circle cx="110" cy="164" r="4" fill="#555"/>
  <path d="M82 172 C90 168 100 166 104 170 M118 170 C124 166 134 168 142 172" fill="none" stroke="#ddd" stroke-width="2"/>
  <path d="M93.4 78.2 L99.7 60.4 L115.3 79.6 C108 74 100 74 93.4 78.2 Z" fill="#222" stroke="#d29b3d" stroke-width="1.3"/>
  <path d="M4 190 C40 205 100 214 150 212" fill="none" stroke="#e6e6e6" stroke-width="1.4"/>
  <g fill="#ddd"><circle cx="78" cy="112" r="1.3"/><circle cx="80" cy="118" r="1.2"/><circle cx="76" cy="124" r="1.4"/><circle cx="82" cy="128" r="1"/><circle cx="75" cy="134" r="1.2"/><circle cx="68" cy="118" r="1"/><circle cx="140" cy="70" r="1"/><circle cx="150" cy="78" r="1"/><circle cx="60" cy="130" r="1"/></g>
  </g>
  <rect x="20.5" y="19.5" width="15.5" height="39" rx="1.5" fill="none" stroke="#fff" stroke-width="1.8"/>
  <path d="M30 48.1 L17 45.6 C13 44.9 10.8 46.1 10.8 48.1 C10.8 50.1 13 51.3 17 50.6 Z" fill="#fff"/>
  <g transform="translate(124.9 126.1)">
    <rect width="85" height="83.5" fill="#000"/>
    <g clip-path="url(#insclip)" filter="url(#sb)">
      <path d="M26 0 C30 10 33 18 34 26 L38 26 C40 18 46 8 52 0 Z" fill="#4a4a4a"/>
      <path d="M15 75.3 C24 68 30 56 32 42 C33 34 34 29 35.5 27.4 C38 28 42 34 46 42 C52 54 60 64 68 70 C72 73 75 75 76.6 78 C60 80 35 80 15 75.3 Z" fill="#2e2e2e"/>
      <path d="M17 84 C20 72 32 65 46 65 C60 65 70 72 73 84 Z" fill="#eeeeee"/>
      <g fill="#aaa"><circle cx="32" cy="12" r="0.9"/><circle cx="72" cy="20" r="0.9"/><circle cx="66" cy="50" r="0.9"/><circle cx="14" cy="30" r="0.9"/><circle cx="44" cy="50" r="0.7"/><circle cx="50" cy="58" r="0.7"/><circle cx="38" cy="44" r="0.7"/></g>
    </g>
    <path d="M15 75.3 C24 68 30 56 32 42 C33 34 34 29 35.5 27.4 C38 28 42 34 46 42 C52 54 60 64 68 70 C72 73 75 75 76.6 78" fill="none" stroke="#d29b3d" stroke-width="1.5"/>
    <path d="M17 70 C24 66 36 63 46 63 C58 63 68 68 74 76" fill="none" stroke="#d29b3d" stroke-width="1.3"/>
    <rect width="85" height="83.5" fill="none" stroke="#4f6ea0" stroke-width="2"/>
  </g>
</g>

<!-- caption -->
<text x="795.5" y="803.8" text-anchor="middle" style="font-size:18.35px;fill:#222">Overview of real-world cohorts and study design. Nature, 2026</text>

</svg>
</body></html>
